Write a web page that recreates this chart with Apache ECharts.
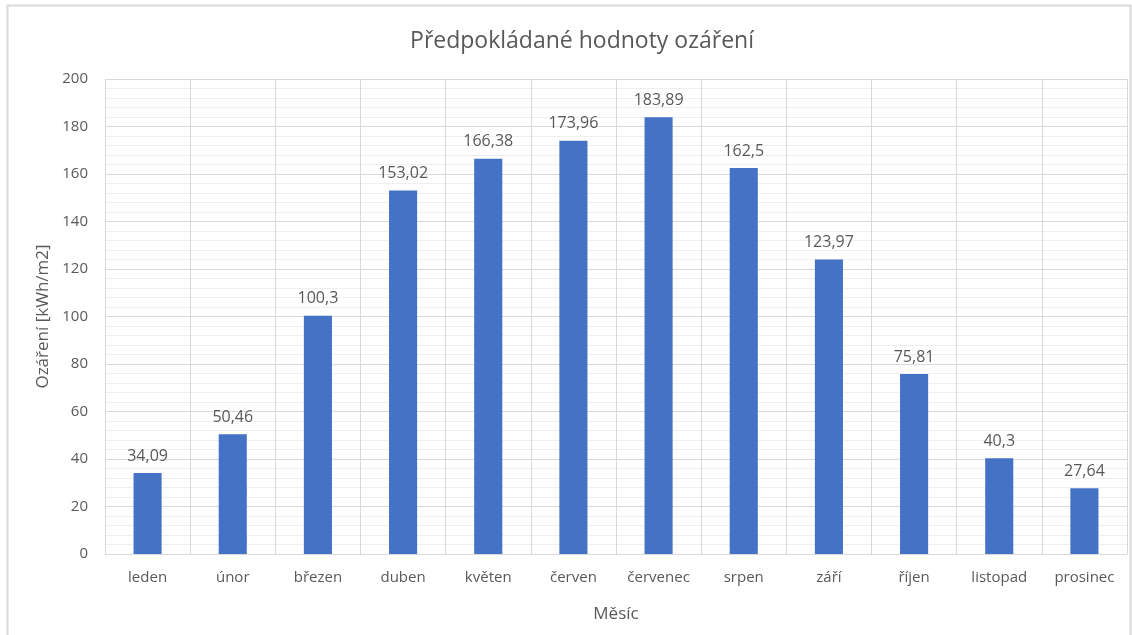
<!DOCTYPE html>
<html>
<head>
<meta charset="utf-8">
<title>Předpokládané hodnoty ozáření</title>
<script src="https://cdn.jsdelivr.net/npm/echarts@6/dist/echarts.min.js"></script>
<style>
  html,body{margin:0;padding:0;background:#fff;}
  #chart{width:1132px;height:635px;}
</style>
</head>
<body>
<div id="chart"></div>
<script>
// měsíce a hodnoty ozáření
const months=['leden','únor','březen','duben','květen','červen','červenec','srpen','září','říjen','listopad','prosinec']
const irradiation=[34.09,50.46,100.3,153.02,166.38,173.96,183.89,162.5,123.97,75.81,40.3,27.64]
const yMin=0
const yMax=200
const yStep=20

const textColor='#595959'
const fontFamily='"Open Sans", "Noto Sans", sans-serif'

let chart=echarts.init(document.getElementById('chart'),null,{renderer:'canvas'})
let option={
  animation:false,
  textStyle:{fontFamily:fontFamily},
  title:{
    text:'Předpokládané hodnoty ozáření',
    left:577,
    top:25,
    textAlign:'center',
    textStyle:{color:textColor,fontSize:23,fontWeight:'normal',fontFamily:fontFamily}
  },
  graphic:[
    {
      type:'rect',
      shape:{x:7.5,y:5.5,width:1123,height:640},
      style:{fill:'none',stroke:'#d9d9d9',lineWidth:2},
      silent:true
    }
  ],
  grid:{left:105,right:5,top:79,bottom:81,containLabel:false},
  xAxis:{
    type:'category',
    data:months,
    name:'Měsíc',
    nameLocation:'middle',
    nameGap:52,
    nameTextStyle:{color:textColor,fontSize:17,fontFamily:fontFamily},
    axisLine:{show:true,lineStyle:{color:'#d9d9d9',width:1}},
    axisTick:{show:false},
    axisLabel:{color:textColor,fontSize:15,margin:16,fontFamily:fontFamily},
    splitLine:{show:true,lineStyle:{color:'#d9d9d9',width:1}}
  },
  yAxis:{
    type:'value',
    min:yMin,
    max:yMax,
    interval:yStep,
    name:'Ozáření [kWh/m2]',
    nameLocation:'middle',
    nameGap:50,
    nameTextStyle:{color:textColor,fontSize:17,fontFamily:fontFamily},
    axisLine:{show:false},
    axisTick:{show:false},
    axisLabel:{color:textColor,fontSize:15,margin:17,fontFamily:fontFamily},
    splitLine:{show:true,lineStyle:{color:'#d9d9d9',width:1}},
    minorTick:{show:false,splitNumber:5},
    minorSplitLine:{show:true,lineStyle:{color:'#efefef',width:1}}
  },
  series:[
    {
      type:'bar',
      data:irradiation,
      barWidth:'33%',
      itemStyle:{color:'#4472c4'},
      label:{
        show:true,
        position:'top',
        distance:9,
        color:textColor,
        fontSize:16,
        fontFamily:fontFamily,
        formatter:p=>String(p.value).replace('.',',')
      }
    }
  ]
}
chart.setOption(option)
</script>
</body>
</html>
